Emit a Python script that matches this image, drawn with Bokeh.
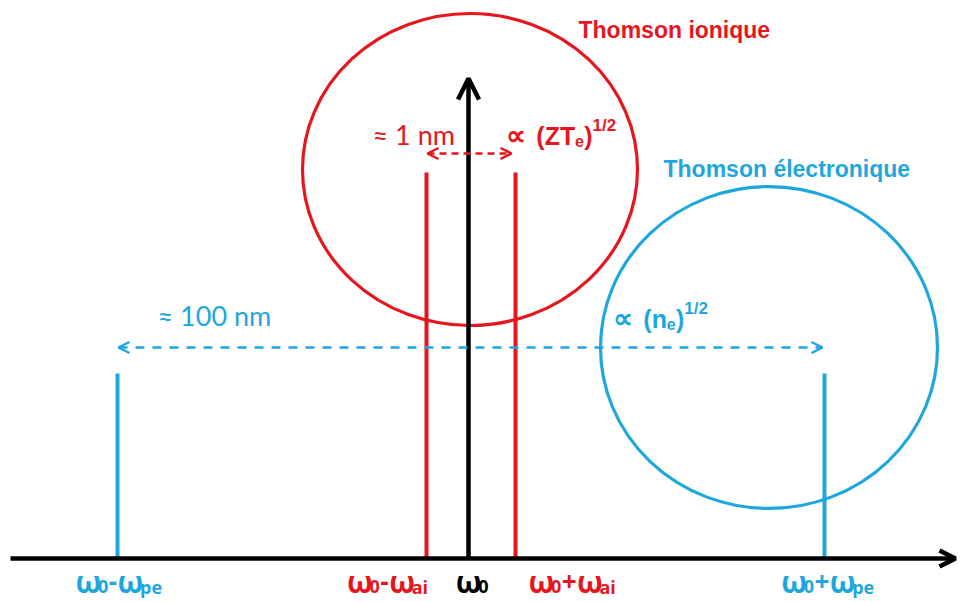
from bokeh.plotting import figure
from bokeh.models import Range1d, Arrow, OpenHead
from bokeh.core.properties import value
from bokeh.embed import file_html
from bokeh.resources import INLINE

RED = "#e5161d"
BLUE = "#1ea7df"
BLACK = "#000000"

# ---- diagram data (picture units: x to the right, y downward) ----
axis_y = 558
axis_x = [10, 955]
omega0_x = 468
omega0_top = 78
ion_lines_x = [426, 515]
ion_lines_top = [172, 172]
elec_lines_x = [117, 824]
elec_lines_top = [373, 373]

ion_circle = dict(x=[469.5], y=[169], w=[335], h=[312])
elec_circle = dict(x=[768.5], y=[347], w=[337], h=[322])

ion_span = dict(x0=[427], x1=[511], y=[153])
elec_span = dict(x0=[118], x1=[822], y=[347])

tick_labels = [
    # (runs, anchor x, align, color)
    ([("ω", 30, 0), ("0", 18, 5), ("-", 26, 0), ("ω", 30, 0), ("pe", 18, 5)], 118, "center", BLUE),
    ([("ω", 30, 0), ("0", 18, 5), ("-", 26, 0), ("ω", 30, 0), ("ai", 18, 5)], 427, "right", RED),
    ([("ω", 30, 0), ("0", 18, 5)], 472, "center", BLACK),
    ([("ω", 30, 0), ("0", 18, 5), ("+", 26, 0), ("ω", 30, 0), ("ai", 18, 5)], 528, "left", RED),
    ([("ω", 30, 0), ("0", 18, 5), ("+", 26, 0), ("ω", 30, 0), ("pe", 18, 5)], 827, "center", BLUE),
]
tick_baseline = 581

W = {'ω': 0.75, '0': 0.60, '-': 0.34, '+': 0.58, 'p': 0.62, 'e': 0.58, 'a': 0.58,
     'i': 0.30, '∝': 0.78, ' ': 0.36, '(': 0.33, ')': 0.33, 'Z': 0.61, 'T': 0.61,
     'n': 0.61, '1': 0.56, '/': 0.28, '2': 0.56}

p = figure(width=960, height=602, output_backend="svg", toolbar_location=None,
           x_range=Range1d(0, 960), y_range=Range1d(602, 0), min_border=0)
p.axis.visible = False
p.grid.visible = False
p.outline_line_color = None
p.background_fill_color = "white"


def put_runs(parts, x, y, color, font, align="left", style="bold"):
    widths = [sum(W.get(c, 0.58) for c in t) * s for t, s, dy in parts]
    total = sum(widths)
    if align == "center":
        x -= total / 2
    elif align == "right":
        x -= total
    for (t, s, dy), w in zip(parts, widths):
        lead = len(t) - len(t.lstrip())
        p.text(x=[x + lead * W[' '] * s], y=[y + dy], text=[t.strip()], text_font=value(font),
               text_font_size=f"{s}px", text_font_style=style, text_color=color,
               text_align="left", text_baseline="alphabetic")
        x += w


# circles
p.ellipse(x=ion_circle["x"], y=ion_circle["y"], width=ion_circle["w"], height=ion_circle["h"],
          fill_color=None, line_color=RED, line_width=3.2)
p.ellipse(x=elec_circle["x"], y=elec_circle["y"], width=elec_circle["w"], height=elec_circle["h"],
          fill_color=None, line_color=BLUE, line_width=3.2)

# spectral lines
p.segment(x0=ion_lines_x, y0=[axis_y] * 2, x1=ion_lines_x, y1=ion_lines_top,
          line_color=RED, line_width=4)
p.segment(x0=elec_lines_x, y0=[axis_y] * 2, x1=elec_lines_x, y1=elec_lines_top,
          line_color=BLUE, line_width=4)

# axes with arrows
p.add_layout(Arrow(x_start=axis_x[0], y_start=axis_y, x_end=axis_x[1], y_end=axis_y,
                   line_color=BLACK, line_width=4.5,
                   end=OpenHead(size=16, line_color=BLACK, line_width=4.5)))
p.add_layout(Arrow(x_start=omega0_x, y_start=axis_y, x_end=omega0_x, y_end=omega0_top,
                   line_color=BLACK, line_width=4.5,
                   end=OpenHead(size=21, line_color=BLACK, line_width=4.5)))

# dashed double arrows
p.add_layout(Arrow(x_start=ion_span["x0"][0], y_start=ion_span["y"][0],
                   x_end=ion_span["x1"][0], y_end=ion_span["y"][0],
                   line_color=RED, line_width=2.5, line_dash="7 5",
                   start=OpenHead(size=11, line_color=RED, line_width=2.5),
                   end=OpenHead(size=11, line_color=RED, line_width=2.5)))
p.add_layout(Arrow(x_start=elec_span["x0"][0], y_start=elec_span["y"][0],
                   x_end=elec_span["x1"][0], y_end=elec_span["y"][0],
                   line_color=BLUE, line_width=2.5, line_dash="9 8",
                   start=OpenHead(size=11, line_color=BLUE, line_width=2.5),
                   end=OpenHead(size=11, line_color=BLUE, line_width=2.5)))

# titles
p.text(x=[578], y=[29], text=["Thomson ionique"], text_font=value("Liberation Sans"),
       text_font_size="23px", text_font_style="bold", text_color=RED,
       text_align="left", text_baseline="alphabetic")
p.text(x=[663], y=[168], text=["Thomson électronique"], text_font=value("Liberation Sans"),
       text_font_size="23px", text_font_style="bold", text_color=BLUE,
       text_align="left", text_baseline="alphabetic")

# widths
p.text(x=[372], y=[134], text=["≈ 1 nm"], text_font=value("Lato"),
       text_font_size="27px", text_color=RED, text_align="left", text_baseline="alphabetic")
p.text(x=[157], y=[315], text=["≈ 100 nm"], text_font=value("Lato"),
       text_font_size="27px", text_color=BLUE, text_align="left", text_baseline="alphabetic")

# proportionalities
put_runs([("∝", 28, 0), (" (ZT", 25, 0), ("e", 16, 5), (")", 25, 0), ("1/2", 17, -10)],
         505, 135, RED, "Liberation Sans")
put_runs([("∝", 28, 0), (" (n", 25, 0), ("e", 16, 5), (")", 25, 0), ("1/2", 17, -10)],
         612, 318, BLUE, "Liberation Sans")

# tick labels
for runs, ax, align, color in tick_labels:
    put_runs(runs, ax, tick_baseline, color, "Open Sans", align=align)

open("out.html", "w").write(file_html(p, INLINE))
